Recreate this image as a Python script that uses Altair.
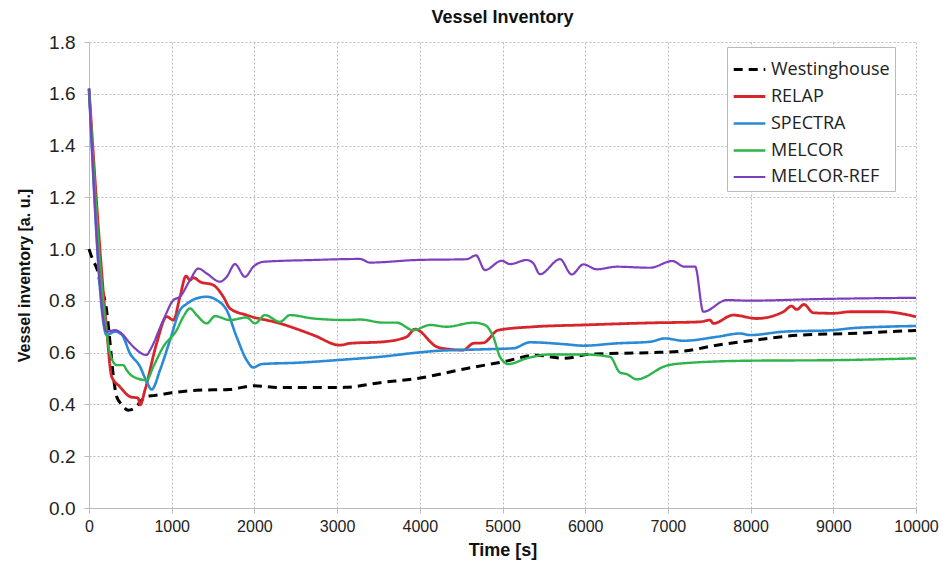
import altair as alt
import pandas as pd

series_names = ["Westinghouse", "RELAP", "SPECTRA", "MELCOR", "MELCOR-REF"]
series_colors = ["#000000", "#d7262b", "#2a8ad6", "#2db44a", "#7e3fbf"]

west_t = [0, 50, 100, 133, 214, 260, 294, 335, 395, 475, 550, 620, 697, 800, 1000, 1300, 1700, 1990, 2300, 3100, 3520, 3960, 4570, 5010, 5410, 5740, 6060, 6780, 7190, 7590, 7990, 8600, 9200, 10000]
west_v = [1.0, 0.955, 0.92, 0.87, 0.76, 0.62, 0.51, 0.43, 0.40, 0.378, 0.385, 0.41, 0.432, 0.435, 0.445, 0.455, 0.458, 0.472, 0.465, 0.466, 0.484, 0.50, 0.539, 0.565, 0.59, 0.578, 0.594, 0.600, 0.606, 0.629, 0.646, 0.668, 0.674, 0.686]

relap_t = [0, 214, 274, 375, 496, 596, 617, 677, 818, 939, 1020, 1100, 1173, 1221, 1262, 1342, 1503, 1624, 1705, 1907, 2310, 2713, 3035, 3156, 3559, 3841, 3942, 4204, 4365, 4526, 4647, 4768, 4949, 5373, 5978, 6784, 7388, 7509, 7549, 7791, 8073, 8396, 8496, 8557, 8646, 8758, 9000, 9202, 9605, 10000]
relap_v = [1.62, 0.687, 0.507, 0.468, 0.43, 0.424, 0.398, 0.456, 0.636, 0.739, 0.726, 0.816, 0.896, 0.88, 0.89, 0.874, 0.861, 0.816, 0.771, 0.745, 0.713, 0.668, 0.629, 0.636, 0.642, 0.661, 0.691, 0.623, 0.613, 0.61, 0.636, 0.638, 0.687, 0.70, 0.707, 0.715, 0.719, 0.726, 0.713, 0.745, 0.732, 0.758, 0.78, 0.767, 0.786, 0.754, 0.752, 0.758, 0.758, 0.739]

spectra_t = [0, 214, 314, 395, 496, 617, 697, 758, 859, 980, 1100, 1181, 1302, 1423, 1544, 1665, 1785, 1907, 1987, 2088, 2511, 3116, 3519, 3962, 4163, 4768, 5131, 5333, 5776, 5978, 6381, 6784, 6965, 7186, 7590, 7872, 7993, 8396, 9000, 9202, 9605, 10000]
spectra_v = [1.62, 0.668, 0.681, 0.67, 0.597, 0.546, 0.488, 0.458, 0.533, 0.649, 0.764, 0.788, 0.81, 0.816, 0.803, 0.764, 0.661, 0.571, 0.543, 0.556, 0.561, 0.574, 0.584, 0.60, 0.606, 0.613, 0.617, 0.64, 0.632, 0.627, 0.636, 0.642, 0.655, 0.646, 0.661, 0.674, 0.668, 0.681, 0.687, 0.694, 0.70, 0.703]

melcor_t = [0, 214, 254, 335, 415, 455, 536, 697, 778, 899, 1060, 1141, 1221, 1302, 1423, 1524, 1705, 1907, 2007, 2128, 2310, 2430, 2713, 3116, 3277, 3559, 3720, 3922, 4123, 4325, 4647, 4788, 4889, 4970, 5070, 5292, 5574, 5978, 6300, 6421, 6502, 6623, 6985, 7186, 7993, 9000, 10000]
melcor_v = [1.62, 0.674, 0.597, 0.552, 0.552, 0.533, 0.507, 0.494, 0.546, 0.623, 0.687, 0.739, 0.771, 0.745, 0.713, 0.741, 0.726, 0.736, 0.713, 0.745, 0.719, 0.745, 0.732, 0.726, 0.728, 0.716, 0.716, 0.687, 0.707, 0.70, 0.716, 0.707, 0.661, 0.584, 0.556, 0.578, 0.593, 0.593, 0.584, 0.523, 0.517, 0.497, 0.55, 0.559, 0.569, 0.571, 0.578]

mref_t = [0, 214, 314, 395, 496, 697, 738, 899, 1020, 1100, 1221, 1322, 1423, 1584, 1665, 1765, 1886, 1987, 2108, 2713, 3277, 3398, 3962, 4567, 4680, 4788, 4990, 5091, 5292, 5373, 5453, 5695, 5837, 5978, 6139, 6381, 6784, 7055, 7200, 7330, 7428, 7711, 7993, 8799, 10000]
mref_v = [1.62, 0.681, 0.687, 0.674, 0.636, 0.591, 0.61, 0.726, 0.803, 0.816, 0.88, 0.925, 0.906, 0.874, 0.893, 0.942, 0.893, 0.932, 0.951, 0.958, 0.962, 0.948, 0.958, 0.961, 0.976, 0.919, 0.955, 0.942, 0.958, 0.945, 0.903, 0.961, 0.902, 0.941, 0.922, 0.932, 0.928, 0.954, 0.932, 0.932, 0.758, 0.803, 0.801, 0.807, 0.812]

x_ticks = list(range(0, 10001, 1000))
y_ticks = [0.0, 0.2, 0.4, 0.6, 0.8, 1.0, 1.2, 1.4, 1.6, 1.8]

rows = []
for name, ts, vs in [("Westinghouse", west_t, west_v), ("RELAP", relap_t, relap_v),
                     ("SPECTRA", spectra_t, spectra_v), ("MELCOR", melcor_t, melcor_v),
                     ("MELCOR-REF", mref_t, mref_v)]:
    for t, v in zip(ts, vs):
        rows.append({"series": name, "t": t, "v": v})
df = pd.DataFrame(rows)

lab_font = "Liberation Sans Narrow, Liberation Sans, Arial"

legend_kw = dict(title=None, orient="none", legendX=638, legendY=5,
                 fillColor="white", strokeColor="#bbbbbb", padding=5,
                 labelFont="Open Sans", labelFontSize=18, labelColor="#222222",
                 symbolType="stroke", symbolSize=1000, symbolStrokeWidth=2.2,
                 rowPadding=-5, labelOffset=4)

chart = alt.Chart(df).mark_line(interpolate="monotone").encode(
    x=alt.X("t:Q", scale=alt.Scale(domain=[0, 10000], nice=False, zero=False),
            axis=alt.Axis(values=x_ticks, title="Time [s]", format="d",
                          labelFont=lab_font, labelFontSize=16, labelColor="#222222",
                          labelFlush=False, labelOverlap=False,
                          titleFont=lab_font, titleFontSize=18, titleFontWeight="bold",
                          titleColor="#111111", labelPadding=5, titlePadding=7,
                          tickSize=5, tickColor="#bbbbbb", domainColor="#bbbbbb",
                          gridDash=[2, 2], gridColor="#bbbbbb")),
    y=alt.Y("v:Q", scale=alt.Scale(domain=[0, 1.8], nice=False),
            axis=alt.Axis(values=y_ticks, format=".1f", title="Vessel inventory  [a. u.]",
                          labelFont=lab_font, labelFontSize=19, labelColor="#222222",
                          titleFont="Liberation Sans", titleFontSize=16, titleFontWeight="bold",
                          titleColor="#111111", labelPadding=9, titlePadding=16,
                          tickSize=5, tickColor="#bbbbbb", domainColor="#bbbbbb",
                          gridDash=[2, 2], gridColor="#bbbbbb")),
    color=alt.Color("series:N", scale=alt.Scale(domain=series_names, range=series_colors),
                    legend=alt.Legend(**legend_kw)),
    strokeDash=alt.StrokeDash("series:N", scale=alt.Scale(domain=series_names,
                              range=[[9, 6], [1, 0], [1, 0], [1, 0], [1, 0]]),
                              legend=alt.Legend(**legend_kw)),
    strokeWidth=alt.StrokeWidth("series:N", scale=alt.Scale(domain=series_names,
                                range=[3, 2.2, 2.2, 2.2, 2.2]), legend=None),
).properties(
    width=827, height=466,
    title=alt.TitleParams("Vessel Inventory", font="Liberation Sans", fontSize=18,
                          fontWeight="bold", color="#111111", anchor="middle", offset=6),
    autosize=alt.AutoSizeParams(type="none"),
    padding={"left": 81, "top": 34, "right": 23, "bottom": 54},
).configure_view(stroke=None)

chart.save("out.html", embed_options={"renderer": "svg", "actions": False})
